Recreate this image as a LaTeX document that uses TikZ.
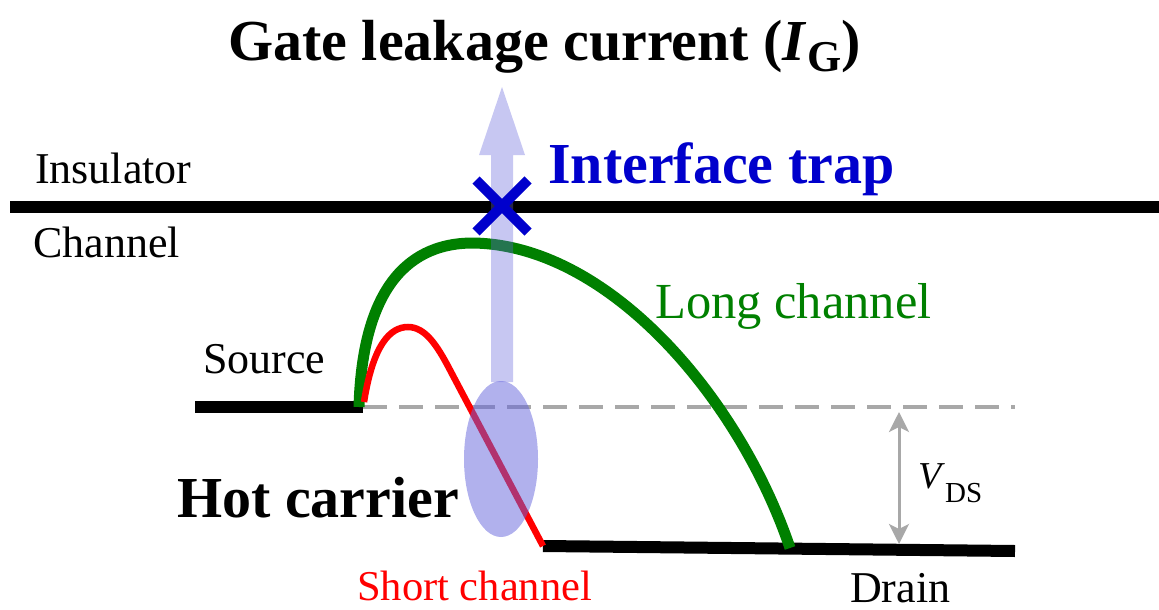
\documentclass[tikz,border=0pt]{standalone}
\usepackage{fontspec}
\setmainfont{Liberation Serif}
\usepackage{xcolor}
\usepackage{tikz}
\usetikzlibrary{arrows.meta}
\definecolor{trapblue}{rgb}{0,0,0.8}
\definecolor{longgreen}{rgb}{0,0.5,0}
\definecolor{glowblue}{RGB}{100,100,220}
\definecolor{vgray}{RGB}{168,168,168}

\begin{document}
\begin{tikzpicture}[x=1pt,y=-1pt]
    \useasboundingbox (0,0) rectangle (1159,610);

    \tikzstyle{big}=[font=\fontsize{58}{60}\selectfont\bfseries,inner sep=0pt,anchor=base west]
    \tikzstyle{tag}=[font=\fontsize{44}{46}\selectfont,inner sep=0pt,anchor=base west]
    \tikzstyle{band}=[draw=black,line width=12pt]
    \tikzstyle{longpath}=[draw=longgreen,line width=11pt]
    \tikzstyle{shortpath}=[draw=red,line width=6.5pt]
    \tikzstyle{glow}=[fill=glowblue,fill opacity=0.36]

    \coordinate (insL) at (10,207);
    \coordinate (insR) at (1159,207);
    \coordinate (srcL) at (195,407);
    \coordinate (srcR) at (363,407);
    \coordinate (drnL) at (543,546);
    \coordinate (drnR) at (1015,551);
    \coordinate (dashR) at (1015,407);
    \coordinate (peak) at (473,243);
    \coordinate (gEnd) at (790,548);
    \coordinate (vTop) at (899,412);
    \coordinate (vBot) at (899,544);
    \coordinate (trap) at (502,206);

    \draw [band] (insL) -- (insR);
    \draw [band] (srcL) -- (srcR);
    \draw [band] (drnL) -- (drnR);
    \draw [vgray, line width=3.5pt, dash pattern=on 24pt off 12pt] (srcR) -- (dashR);

    \draw [longpath] (359,407) .. controls (362,300) and (400,243) .. (peak)
                     .. controls (610,245) and (740,400) .. (gEnd);
    \draw [shortpath] (364,402) .. controls (373,345) and (390,327) .. (408,327)
                      .. controls (425,327) and (437,345) .. (450,370) -- (drnL);

    \fill [glow] (491,382) -- (491,155) -- (479,155) -- (502,87)
                 -- (525,155) -- (513,155) -- (513,382) -- cycle;
    \fill [glow, fill opacity=0.5] (501,459) ellipse [x radius=37, y radius=78];

    \draw [trapblue, line width=10pt] (trap) ++(-26,-26) -- ++(52,52);
    \draw [trapblue, line width=10pt] (trap) ++(-26,26) -- ++(52,-52);

    \draw [vgray, line width=3pt, {Stealth[width=20pt,length=20pt,inset=5pt]}-{Stealth[width=20pt,length=20pt,inset=5pt]}] (vTop) -- (vBot);

    \node[big] (title) at (228,60) {Gate leakage current (\textit{I}\raisebox{-11pt}{\fontsize{44}{44}\selectfont G})};
    \node[big, text=trapblue] (traptext) at (548,183) {Interface trap};
    \node[big] (hot) at (177,517) {Hot carrier};
    \node[tag] (ins) at (35,183) {Insulator};
    \node[tag] (chan) at (33,257) {Channel};
    \node[tag] (src) at (203,373) {Source};
    \node[tag] (drn) at (850,602) {Drain};
    \node[tag, font=\fontsize{50.5}{52}\selectfont, text=longgreen] (long) at (655,318) {Long channel};
    \node[tag, font=\fontsize{42.5}{44}\selectfont, text=red] (short) at (357,600) {Short channel};
    \node[tag, font=\fontsize{38}{40}\selectfont] (vds) at (918,488) {\textit{V}\raisebox{-14pt}{\fontsize{29}{29}\selectfont DS}};
\end{tikzpicture}
\end{document}
